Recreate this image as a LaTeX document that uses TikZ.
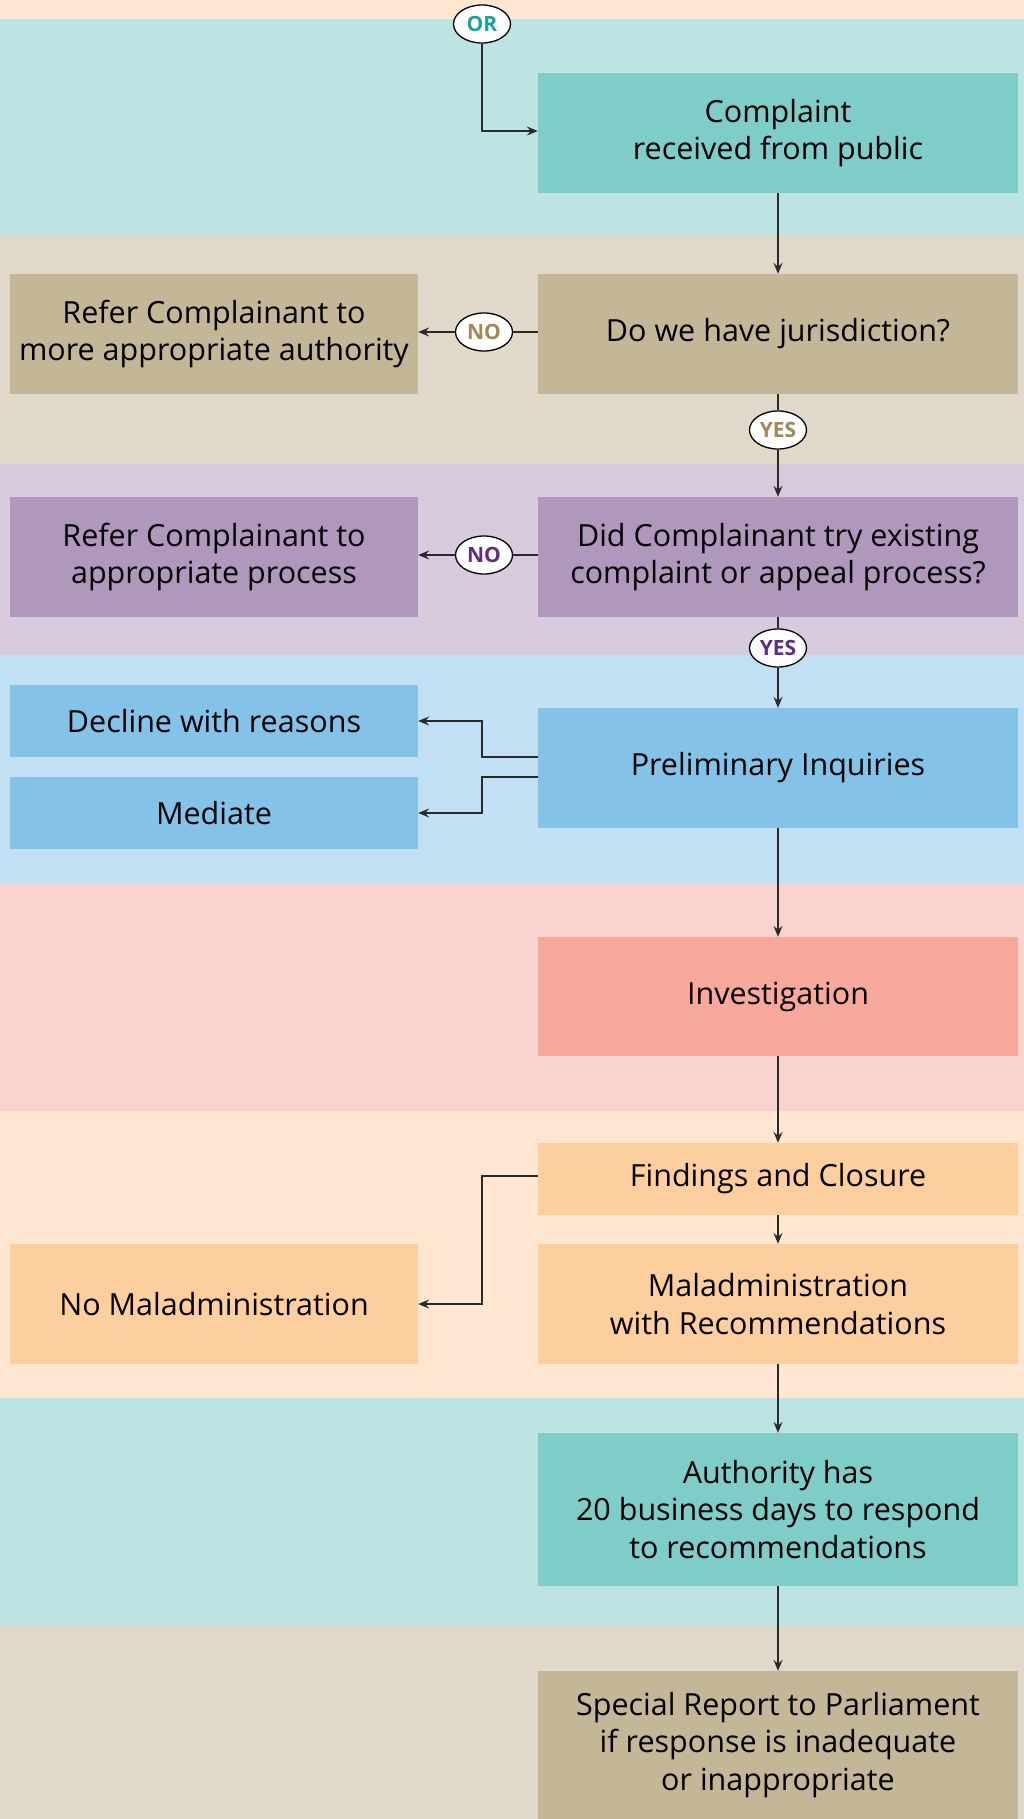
\documentclass[tikz,border=0pt]{standalone}
\usepackage{fontspec}
\setmainfont{Open Sans}
\usetikzlibrary{arrows.meta,shapes.geometric}
\definecolor{peachband}{HTML}{FEE6D0}
\definecolor{peachbox}{HTML}{FDCF9E}
\definecolor{tealband}{HTML}{BDE4E2}
\definecolor{tealbox}{HTML}{7ECDC9}
\definecolor{tanband}{HTML}{E0D9C9}
\definecolor{tanbox}{HTML}{C4B797}
\definecolor{purpband}{HTML}{D8CADD}
\definecolor{purpbox}{HTML}{B098BC}
\definecolor{blueband}{HTML}{C2E0F3}
\definecolor{bluebox}{HTML}{84C2E8}
\definecolor{pinkband}{HTML}{F9D3CD}
\definecolor{pinkbox}{HTML}{F8A99C}
\definecolor{ortxt}{HTML}{1AA39B}
\definecolor{tantxt}{HTML}{9E8A55}
\definecolor{purptxt}{HTML}{5E2C87}
\definecolor{linecol}{HTML}{2A2A2A}
\tikzset{
  rbox/.style={rectangle, inner sep=0pt, minimum width=480pt, align=center, font=\fontsize{30.5}{37.5}\selectfont},
  lbox/.style={rectangle, inner sep=0pt, minimum width=408pt, align=center, font=\fontsize{30.5}{37.5}\selectfont},
  tag/.style={ellipse, draw=black, line width=1.3pt, fill=white, inner sep=0pt, minimum width=57pt, minimum height=38pt, font=\fontsize{21}{22}\selectfont\bfseries},
  conn/.style={draw=linecol, line width=1.4pt, -{Stealth[length=11pt,width=9pt,inset=4pt]}},
  plain/.style={draw=linecol, line width=1.4pt}
}
\begin{document}
\begin{tikzpicture}[x=1pt,y=-1pt]
\useasboundingbox (0,0) rectangle (1024,1819);
% bands
\fill[peachband] (0,0) rectangle (1024,19);
\fill[tealband] (0,19) rectangle (1024,235);
\fill[tanband] (0,235) rectangle (1024,464);
\fill[purpband] (0,464) rectangle (1024,655);
\fill[blueband] (0,655) rectangle (1024,884);
\fill[pinkband] (0,884) rectangle (1024,1111);
\fill[peachband] (0,1111) rectangle (1024,1398);
\fill[tealband] (0,1398) rectangle (1024,1626);
\fill[tanband] (0,1626) rectangle (1024,1819);
% boxes
\node[rbox, fill=tealbox, minimum height=120pt] (complaint) at (778,133) {Complaint\\received from public};
\node[rbox, fill=tanbox, minimum height=120pt] (juris) at (778,334) {Do we have jurisdiction?};
\node[lbox, fill=tanbox, minimum height=120pt] (refer1) at (214,334) {Refer Complainant to\\more appropriate authority};
\node[rbox, fill=purpbox, minimum height=120pt] (tried) at (778,557) {Did Complainant try existing\\complaint or appeal process?};
\node[lbox, fill=purpbox, minimum height=120pt] (refer2) at (214,557) {Refer Complainant to\\appropriate process};
\node[rbox, fill=bluebox, minimum height=120pt] (prelim) at (778,768) {Preliminary Inquiries};
\node[lbox, fill=bluebox, minimum height=72pt] (decline) at (214,721) {Decline with reasons};
\node[lbox, fill=bluebox, minimum height=72pt] (mediate) at (214,813) {Mediate};
\node[rbox, fill=pinkbox, minimum height=119pt] (invest) at (778,996.5) {Investigation};
\node[rbox, fill=peachbox, minimum height=72pt] (findings) at (778,1179) {Findings and Closure};
\node[rbox, fill=peachbox, minimum height=120pt] (maladmin) at (778,1304) {Maladministration\\with Recommendations};
\node[lbox, fill=peachbox, minimum height=120pt] (nomal) at (214,1304) {No Maladministration};
\node[rbox, fill=tealbox, minimum height=153pt] (authority) at (778,1509.5) {Authority has\\20 business days to respond\\to recommendations};
\fill[tanbox] (538,1671) rectangle (1018,1819);
\node[rbox, minimum height=148pt] (special) at (778,1745) {Special Report to Parliament\\if response is inadequate\\or inappropriate};
% tags
\node[tag, text=ortxt] (or) at (482,24) {OR};
\node[tag, text=tantxt] (no1) at (484,332) {NO};
\node[tag, text=tantxt] (yes1) at (778,430) {YES};
\node[tag, text=purptxt] (no2) at (484,555) {NO};
\node[tag, text=purptxt] (yes2) at (778,648) {YES};
% connectors
\draw[conn] (or.south) |- (complaint.west |- 0,131);
\draw[conn] (complaint.south) -- (juris.north);
\draw[plain] (juris.west |- no1) -- (no1.east);
\draw[conn] (no1.west) -- (refer1.east |- no1);
\draw[plain] (juris.south) -- (yes1.north);
\draw[conn] (yes1.south) -- (tried.north);
\draw[plain] (tried.west |- no2) -- (no2.east);
\draw[conn] (no2.west) -- (refer2.east |- no2);
\draw[plain] (tried.south) -- (yes2.north);
\draw[conn] (yes2.south) -- (prelim.north);
\coordinate (p1) at (538,757);
\coordinate (p2) at (538,777);
\draw[conn] (p1) -- (482,757) |- (decline.east);
\draw[conn] (p2) -- (482,777) |- (mediate.east);
\draw[conn] (prelim.south) -- (invest.north);
\draw[conn] (invest.south) -- (findings.north);
\draw[conn] (findings.south) -- (maladmin.north);
\coordinate (f1) at (538,1176);
\draw[conn] (f1) -- (482,1176) |- (nomal.east);
\draw[conn] (maladmin.south) -- (authority.north);
\draw[conn] (authority.south) -- (special.north);
\end{tikzpicture}
\end{document}
